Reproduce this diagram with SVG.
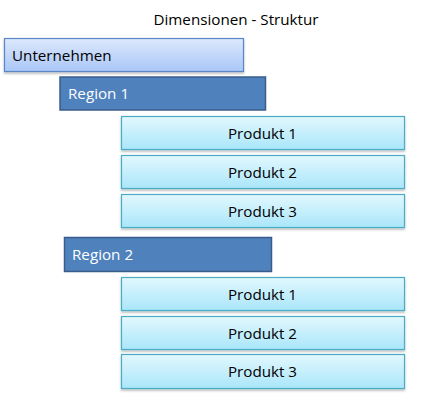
<svg xmlns="http://www.w3.org/2000/svg" width="422" height="404" viewBox="0 0 422 404">
<style>
text{font-family:"Open Sans","Liberation Sans",sans-serif;font-size:15.2px;fill:#000}
.rl{fill:#fff}
.prod{fill:url(#gp);stroke:#4BACC6;stroke-width:1.2}
.reg{fill:#4F81BD;stroke:#385D8A;stroke-width:1.5}
.unt{fill:url(#gu);stroke:#5A86C5;stroke-width:1.2}
</style>
<defs>
<linearGradient id="gp" x1="0" y1="0" x2="0" y2="1"><stop offset="0" stop-color="#E2F8FE"/><stop offset="1" stop-color="#A9E6FA"/></linearGradient>
<linearGradient id="gu" x1="0" y1="0" x2="0" y2="1"><stop offset="0" stop-color="#DDE8FD"/><stop offset="1" stop-color="#A9C7F7"/></linearGradient>
<filter id="sh" x="-5%" y="-20%" width="110%" height="150%"><feDropShadow dx="0" dy="1.5" stdDeviation="1" flood-color="#000" flood-opacity="0.3"/></filter>
</defs>
<text x="236" y="25" text-anchor="middle" font-size="14.2">Dimensionen - Struktur</text>
<g id="unternehmen"><rect class="unt" x="4.5" y="38.5" width="239" height="33" filter="url(#sh)"/><text x="12" y="60.5">Unternehmen</text></g>
<g id="region1"><rect class="reg" x="60" y="77" width="205.5" height="33"/><text class="rl" x="68" y="99">Region 1</text></g>
<g id="r1p1"><rect class="prod" x="121.5" y="116.5" width="283" height="33" filter="url(#sh)"/><text x="262.5" y="138.5" text-anchor="middle">Produkt 1</text></g>
<g id="r1p2"><rect class="prod" x="121.5" y="155.5" width="283" height="33" filter="url(#sh)"/><text x="262.5" y="177.5" text-anchor="middle">Produkt 2</text></g>
<g id="r1p3"><rect class="prod" x="121.5" y="194.5" width="283" height="33" filter="url(#sh)"/><text x="262.5" y="216.5" text-anchor="middle">Produkt 3</text></g>
<g id="region2"><rect class="reg" x="64.5" y="237.5" width="207" height="34"/><text class="rl" x="72" y="259.5">Region 2</text></g>
<g id="r2p1"><rect class="prod" x="121.5" y="277.5" width="283" height="33" filter="url(#sh)"/><text x="262.5" y="299.5" text-anchor="middle">Produkt 1</text></g>
<g id="r2p2"><rect class="prod" x="121.5" y="316.5" width="283" height="33" filter="url(#sh)"/><text x="262.5" y="338.5" text-anchor="middle">Produkt 2</text></g>
<g id="r2p3"><rect class="prod" x="121.5" y="354.5" width="283" height="34" filter="url(#sh)"/><text x="262.5" y="377" text-anchor="middle">Produkt 3</text></g>
<g id="connectors"/>
</svg>
